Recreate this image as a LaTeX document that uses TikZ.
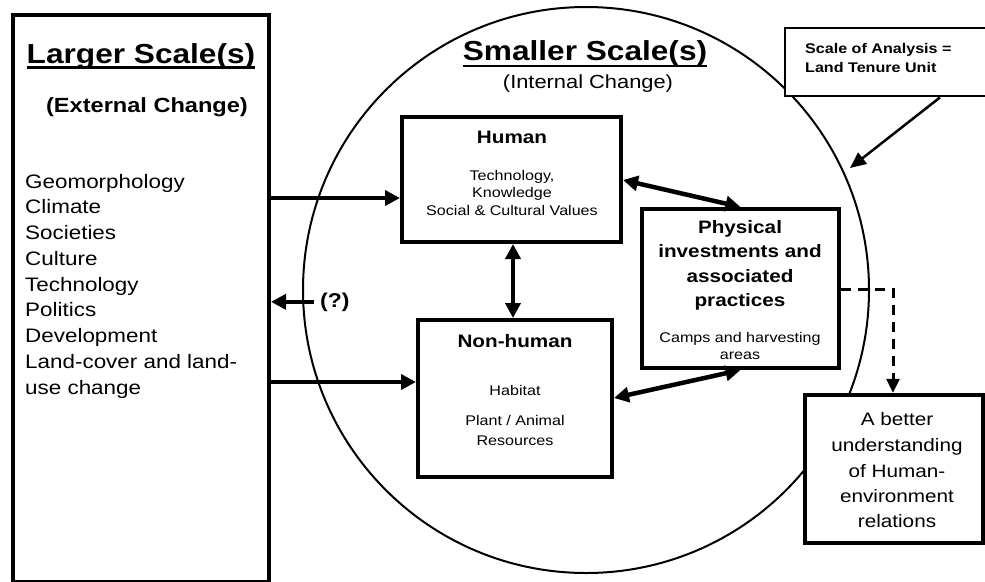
\documentclass[tikz,border=0pt]{standalone}
\usepackage{fontspec}
\setmainfont{Liberation Sans}[FakeStretch=1.15]
\usetikzlibrary{arrows.meta}
\begin{document}
\begin{tikzpicture}[x=1pt,y=-1pt,
  box/.style={draw, line width=4pt, fill=white, inner sep=0pt},
  txt/.style={inner sep=0pt, anchor=base},
  title/.style={txt, font=\bfseries\fontsize{27.5}{33}\selectfont},
  head/.style={txt, font=\bfseries\fontsize{18}{21}\selectfont},
  small/.style={txt, font=\fontsize{14}{16}\selectfont},
  arr/.style={line width=4.5pt, -{Triangle[length=15pt,width=15pt]}},
  darr/.style={line width=4.5pt, {Triangle[length=15pt,width=15pt]}-{Triangle[length=15pt,width=15pt]}}
]
\useasboundingbox (0,0) rectangle (985,581);

% circle
\node[draw, circle, line width=2pt, minimum size=566pt, inner sep=0pt] (circ) at (586,290) {};

% left box
\node[box, minimum width=256pt, minimum height=567pt] (lbox) at (141,298.5) {};
\node[title] (lg) at (141,63) {Larger Scale(s)};
\draw[line width=2.2pt] ([yshift=-4.5pt]lg.base west) -- ([yshift=-4.5pt]lg.base east);
\node[txt, font=\bfseries\fontsize{20.5}{24}\selectfont] (ext) at (147,112) {(External Change)};
\foreach \t [count=\i] in {Geomorphology, Climate, Societies, Culture, Technology, Politics, Development, {Land-cover and land-}, use change}
  \node[txt, anchor=base west, font=\fontsize{19.5}{23}\selectfont] (l\i) at (25,{188+(\i-1)*25.75}) {\t};

% circle titles
\node[title] (sm) at (585,60) {Smaller Scale(s)};
\draw[line width=2.2pt] ([yshift=-6pt]sm.base west) -- ([yshift=-6pt]sm.base east);
\node[txt, font=\fontsize{19}{22}\selectfont] (int) at (588,88) {(Internal Change)};

% human
\node[box, minimum width=219pt, minimum height=125pt] (hum) at (511.5,179.5) {};
\node[head] (humt) at (512,143) {Human};
\node[small] (h1) at (512,180) {Technology,};
\node[small] (h2) at (512,197.5) {Knowledge};
\node[small] (h3) at (512,215) {Social \& Cultural Values};

% non-human
\node[box, minimum width=194pt, minimum height=157pt] (nh) at (515,398.5) {};
\node[head] (nht) at (515,347) {Non-human};
\node[small] (n1) at (515,395) {Habitat};
\node[small] (n2) at (515,425) {Plant / Animal};
\node[small] (n3) at (515,445) {Resources};

% physical
\node[box, minimum width=197pt, minimum height=159pt] (phys) at (740.5,288.5) {};
\node[head] (p1) at (740,233) {Physical};
\node[head] (p2) at (740,257.5) {investments and};
\node[head] (p3) at (740,282) {associated};
\node[head] (p4) at (740,306.5) {practices};
\node[small] (p5) at (740,342) {Camps and harvesting};
\node[small] (p6) at (740,359) {areas};

% scale of analysis
\node[box, line width=2.8pt, minimum width=210pt, minimum height=68pt] (sc) at (890,62) {};
\node[txt, anchor=base west, font=\bfseries\fontsize{14}{16}\selectfont] (s1) at (805,53) {Scale of Analysis =};
\node[txt, anchor=base west, font=\bfseries\fontsize{14}{16}\selectfont] (s2) at (805,72) {Land Tenure Unit};

% better understanding
\node[box, line width=4.5pt, minimum width=178pt, minimum height=148pt] (bt) at (894,469) {};
\foreach \t/\yy [count=\i] in {A better/425, understanding/451, of Human-/477, environment/502.5, relations/527}
  \node[txt, font=\fontsize{18}{21}\selectfont] (b\i) at (897,\yy) {\t};

% question mark
\node[txt, anchor=base west, font=\bfseries\fontsize{20}{24}\selectfont] (q) at (320,307) {(?)};

% connectors
\draw[arr] (lbox.east |- 0,198) -- (hum.west |- 0,198);
\draw[arr] ([xshift=-6pt]q.west) -- (lbox.east |- q.west);
\draw[arr] (lbox.east |- 0,382) -- (nh.west |- 0,382);
\draw[darr] (513,0 |- hum.south) -- (513,0 |- nh.north);
\draw[darr] (hum.east |- 0,180) -- (phys.north);
\draw[darr] (nh.east |- 0,398) -- (phys.south);
\coordinate (sctip) at (850,168);
\draw[line width=2.5pt, -{Triangle[length=16pt,width=14pt]}] (sc.south -| 940,0) -- (sctip);
\draw[line width=3pt, dash pattern=on 10pt off 7pt, -{Triangle[length=14pt,width=13pt]}] (phys.east |- 0,289) -| (bt.north -| 893,0);
\end{tikzpicture}
\end{document}
